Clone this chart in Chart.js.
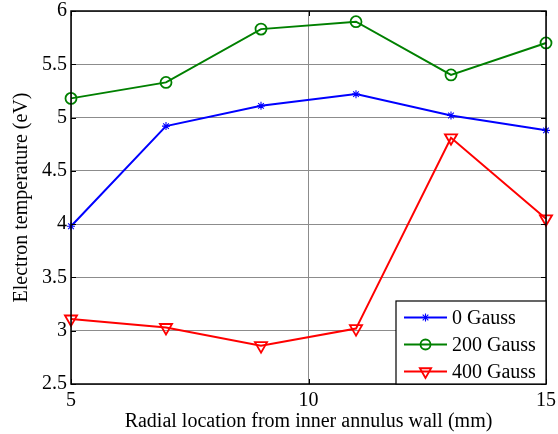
<!DOCTYPE html>
<html>
<head>
<meta charset="utf-8">
<script src="https://cdn.jsdelivr.net/npm/chart.js@4/dist/chart.umd.min.js"></script>
<style>
html,body{margin:0;padding:0;background:#fff;}
#wrap{width:558px;height:434px;}
</style>
</head>
<body>
<div id="wrap"><canvas id="c" width="558" height="434"></canvas></div>
<script>
const xValues = [5, 7, 9, 11, 13, 15];
const gauss0 = [3.98, 4.92, 5.11, 5.22, 5.02, 4.88];
const gauss200 = [5.18, 5.33, 5.83, 5.90, 5.40, 5.70];
const gauss400 = [3.11, 3.03, 2.86, 3.02, 4.81, 4.05];
const seriesLabels = ['0 Gauss', '200 Gauss', '400 Gauss'];
const xTicks = [5, 10, 15];
const yTicks = [2.5, 3, 3.5, 4, 4.5, 5, 5.5, 6];
const xTitle = 'Radial location from inner annulus wall (mm)';
const yTitle = 'Electron temperature (eV)';

const FONT = "'Liberation Serif', 'Times New Roman', serif";

function pts(arr){ return xValues.map((x,i)=>({x:x,y:arr[i]})); }

const styles = [
  {color:'#0000ff', pointStyle:'star', radius:4, rotation:0, legendRadius:4, bw:1.1},
  {color:'#008000', pointStyle:'circle', radius:5.5, rotation:0, legendRadius:5, bw:1.8},
  {color:'#ff0000', pointStyle:'triangle', radius:7, rotation:180, legendRadius:6.5, bw:1.8}
];
const data = [gauss0, gauss200, gauss400];

const datasets = data.map((d,i)=>({
  label: seriesLabels[i],
  data: pts(d),
  borderColor: styles[i].color,
  backgroundColor: 'rgba(0,0,0,0)',
  borderWidth: 2,
  pointStyle: styles[i].pointStyle,
  pointRadius: styles[i].radius,
  pointRotation: styles[i].rotation,
  pointBorderWidth: styles[i].bw,
  pointBorderColor: styles[i].color,
  pointBackgroundColor: 'rgba(0,0,0,0)',
  tension: 0,
  clip: false
}));

const framePlugin = {
  id: 'frame',
  afterDatasetsDraw(chart){
    const ctx = chart.ctx, a = chart.chartArea;
    const xs = chart.scales.x, ys = chart.scales.y;
    ctx.save();
    ctx.strokeStyle = '#000';
    ctx.lineWidth = 1.5;
    ctx.strokeRect(a.left, a.top, a.right - a.left, a.bottom - a.top);
    ctx.lineWidth = 1;
    const tl = 5;
    ctx.beginPath();
    yTicks.forEach(v=>{
      const y = Math.round(ys.getPixelForValue(v)) + 0.5;
      ctx.moveTo(a.left, y); ctx.lineTo(a.left + tl, y);
      ctx.moveTo(a.right, y); ctx.lineTo(a.right - tl, y);
    });
    xTicks.forEach(v=>{
      const x = Math.round(xs.getPixelForValue(v)) + 0.5;
      ctx.moveTo(x, a.bottom); ctx.lineTo(x, a.bottom - tl);
      ctx.moveTo(x, a.top); ctx.lineTo(x, a.top + tl);
    });
    ctx.stroke();

    // legend box
    const bw = 150, bh = 83;
    const bx = a.right - bw, by = a.bottom - bh;
    ctx.fillStyle = '#fff';
    ctx.fillRect(bx, by, bw, bh);
    ctx.strokeStyle = '#000';
    ctx.lineWidth = 1.2;
    ctx.strokeRect(bx, by, bw, bh);
    ctx.font = '20px ' + FONT;
    ctx.textBaseline = 'middle';
    ctx.textAlign = 'left';
    seriesLabels.forEach((lab,i)=>{
      const cy = by + 16.5 + i * 27;
      const lx0 = bx + 8, lx1 = bx + 51;
      ctx.strokeStyle = styles[i].color;
      ctx.lineWidth = 2;
      ctx.beginPath(); ctx.moveTo(lx0, cy); ctx.lineTo(lx1, cy); ctx.stroke();
      ctx.lineWidth = styles[i].bw;
      ctx.fillStyle = 'rgba(0,0,0,0)';
      Chart.helpers.drawPoint(ctx, {
        pointStyle: styles[i].pointStyle,
        radius: styles[i].legendRadius,
        rotation: styles[i].rotation,
        borderWidth: styles[i].bw
      }, (lx0 + lx1) / 2, cy);
      ctx.fillStyle = '#000';
      ctx.fillText(lab, bx + 56, cy + 1);
    });
    ctx.restore();
  }
};

new Chart(document.getElementById('c'), {
  type: 'line',
  data: { datasets: datasets },
  plugins: [framePlugin],
  options: {
    responsive: false,
    animation: false,
    devicePixelRatio: 1,
    layout: { padding: { left: 0, right: 12, top: 11, bottom: 0 } },
    plugins: { legend: { display: false }, tooltip: { enabled: false } },
    scales: {
      x: {
        type: 'linear',
        min: 5, max: 15,
        afterFit(s){ s.height = 50; s.paddingLeft = 0; s.paddingRight = 0; },
        afterBuildTicks(s){ s.ticks = xTicks.map(v=>({value:v})); },
        grid: { color: '#8c8c8c', lineWidth: 1, drawTicks: false, drawOnChartArea: true },
        border: { display: false },
        ticks: { color: '#000', font: { family: FONT, size: 20, lineHeight: 1.2 }, padding: 5, maxRotation: 0,
                 callback: v => String(v) },
        title: { display: true, text: xTitle, color: '#000', font: { family: FONT, size: 20, lineHeight: 1.2 }, padding: { top: 0, bottom: 0 } }
      },
      y: {
        type: 'linear',
        min: 2.5, max: 6,
        afterFit(s){ s.width = 71; s.paddingTop = 0; s.paddingBottom = 0; },
        afterBuildTicks(s){ s.ticks = yTicks.map(v=>({value:v})); },
        grid: { color: '#8c8c8c', lineWidth: 1, drawTicks: false },
        border: { display: false },
        ticks: { color: '#000', font: { family: FONT, size: 20, lineHeight: 1.2 }, padding: 4,
                 callback: v => String(v) },
        title: { display: true, text: yTitle, color: '#000', font: { family: FONT, size: 20, lineHeight: 1.2 }, padding: { top: 10, bottom: 0 } }
      }
    }
  }
});
</script>
</body>
</html>
